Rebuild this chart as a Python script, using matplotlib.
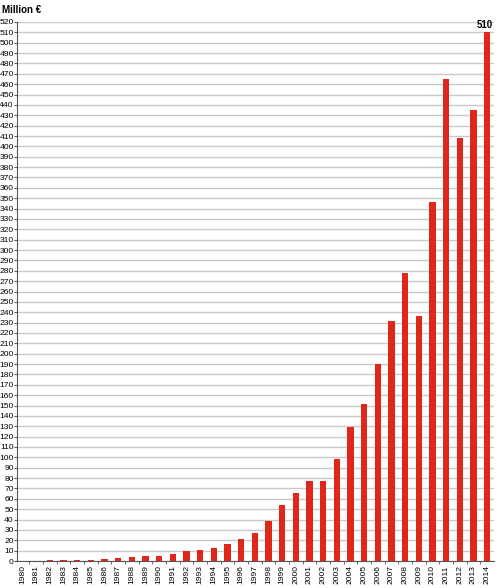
import matplotlib
matplotlib.use("Agg")
import matplotlib.pyplot as plt
import numpy as np

years = [str(y) for y in range(1980, 2015)]
values = [0.1, 0.2, 0.6, 0.6, 1.0, 1.4, 1.6, 2.6, 3.5, 4.5, 5.2, 7.1, 9.4, 11, 12.3, 16.8, 21.6,
          26.7, 38.3, 54.3, 65.3, 77.5, 77.5, 98, 129, 151, 190, 232, 277.5, 236, 346,
          465, 408, 435, 510]
yticks = list(range(0, 521, 10))

plt.rcParams['font.family'] = ['Liberation Sans', 'DejaVu Sans']
fs = 6.1

fig = plt.figure(figsize=(5, 5.88), dpi=100)
ax = fig.add_axes([0.034, 0.0459, 0.954, 0.9167])

x = np.arange(len(years))
ax.bar(x, values, width=0.45, color='#e1261c', zorder=3)

ax.set_xlim(-0.4, len(years) - 0.5)
ax.set_ylim(0, 520)
ax.set_yticks(yticks)
ax.set_yticklabels([str(t) for t in yticks], fontsize=fs)
ax.set_xticks(x)
ax.set_xticklabels(years, rotation=90, fontsize=fs)
ax.tick_params(axis='x', length=0, pad=3)
ax.set_xticks(x[:-1] + 0.5, minor=True)
ax.tick_params(axis='x', which='minor', length=2.5, color='#555555')
ax.tick_params(axis='y', length=2, pad=0.4, color='#555555')

ax.grid(axis='y', color='#c9c9c9', lw=1, zorder=0)
for s in ['top', 'right']:
    ax.spines[s].set_visible(False)
ax.spines['left'].set_color('#555555')
ax.spines['bottom'].set_color('#555555')
ax.spines['left'].set_linewidth(0.8)
ax.spines['bottom'].set_linewidth(0.8)

ax.text(x[-1] - 0.15, values[-1] + 2, str(int(values[-1])), ha='center', va='bottom',
        fontsize=7, fontweight='bold')
fig.text(0.004, 0.983, 'Million €', ha='left', va='center', fontsize=7, fontweight='bold')

fig.savefig('out.png', dpi=100)
